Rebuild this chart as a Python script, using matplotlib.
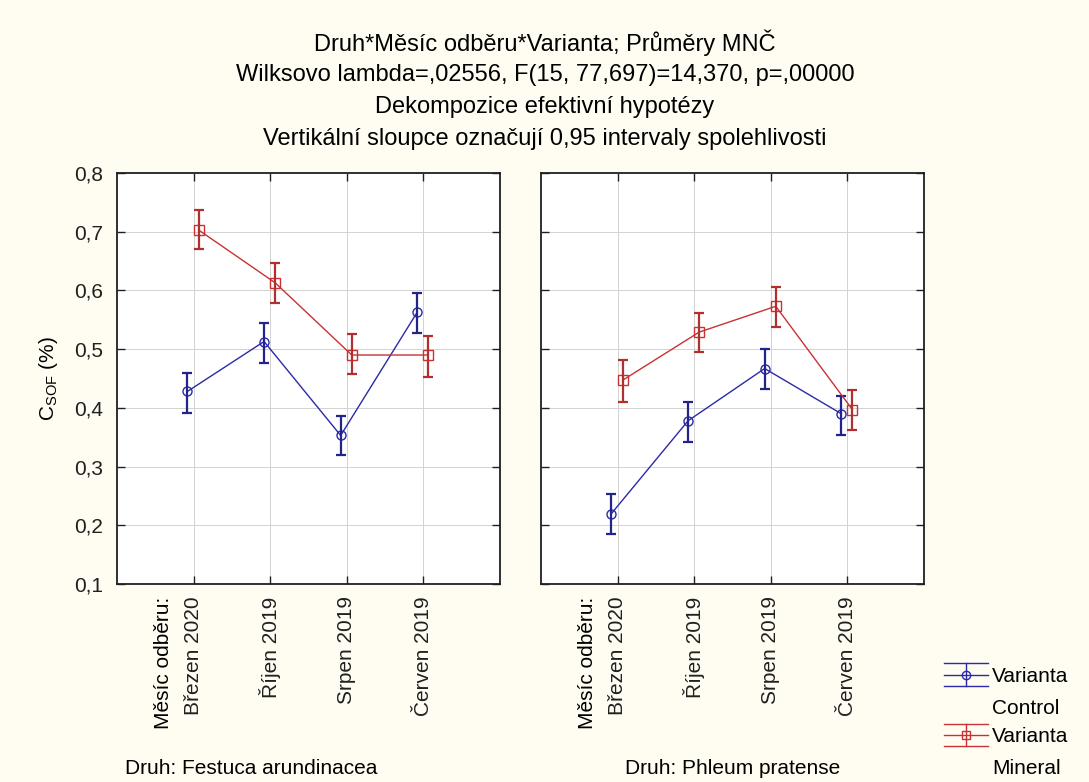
import matplotlib
matplotlib.use('Agg')
import numpy as np
import matplotlib.pyplot as plt
from matplotlib import font_manager
from matplotlib.lines import Line2D
from matplotlib.legend_handler import HandlerBase
from matplotlib.ticker import FuncFormatter

# data
mesice = ['Březen 2020', 'Říjen 2019', 'Srpen 2019', 'Červen 2019']
druhy = ['Festuca arundinacea', 'Phleum pratense']

control_mean = [[0.428, 0.513, 0.353, 0.563], [0.220, 0.378, 0.467, 0.390]]
control_low = [[0.391, 0.477, 0.319, 0.528], [0.185, 0.341, 0.432, 0.354]]
control_high = [[0.460, 0.545, 0.386, 0.595], [0.254, 0.410, 0.500, 0.421]]

mineral_mean = [[0.703, 0.613, 0.490, 0.490], [0.447, 0.529, 0.573, 0.397]]
mineral_low = [[0.670, 0.578, 0.457, 0.453], [0.410, 0.495, 0.537, 0.363]]
mineral_high = [[0.737, 0.646, 0.525, 0.522], [0.481, 0.562, 0.605, 0.430]]

titulky = ['Druh*Měsíc odběru*Varianta; Průměry MNČ',
           'Wilksovo lambda=,02556, F(15, 77,697)=14,370, p=,00000',
           'Dekompozice efektivní hypotézy',
           'Vertikální sloupce označují 0,95 intervaly spolehlivosti']

nazvy = {f.name for f in font_manager.fontManager.ttflist}
uzky = 'Liberation Sans Narrow' if 'Liberation Sans Narrow' in nazvy else 'Liberation Sans'
plt.rcParams['font.family'] = ['Liberation Sans', 'DejaVu Sans']

BG = '#fffcf2'
MODRA = '#2a2aa8'
CERVENA = '#c83232'


class ErrHandler(HandlerBase):
    # small error-bar glyph, lifted to sit on the first line of the label
    def create_artists(self, legend, orig_handle, xdescent, ydescent,
                       width, height, fontsize, trans):
        c = orig_handle.get_color()
        m = orig_handle.get_marker()
        yc = height / 2 - ydescent + fontsize * 0.85
        h = fontsize * 0.55
        arts = []
        for y in (yc - h, yc, yc + h):
            arts.append(Line2D([-xdescent, width - xdescent], [y, y], color=c, lw=1.0))
        arts.append(Line2D([width / 2 - xdescent] * 2, [yc - h, yc + h], color=c, lw=1.0))
        arts.append(Line2D([width / 2 - xdescent], [yc], marker=m, color=c,
                           markerfacecolor='none', markersize=6, lw=0))
        for a in arts:
            a.set_transform(trans)
        return arts


fig = plt.figure(figsize=(10.89, 7.82), dpi=100, facecolor=BG)

for i, t in enumerate(titulky):
    fig.text(0.5005, 1 - (43 + 32 * i) / 782, t, ha='center', va='center',
             fontsize=17, family=uzky)

x = np.arange(1, 5)
lefts = [117 / 1089, 541 / 1089]
popisky_x = [251 / 1089, 733 / 1089]
fmt = FuncFormatter(lambda v, p: f'{v:.1f}'.replace('.', ','))

for k in range(2):
    ax = fig.add_axes([lefts[k], 198 / 782, 383 / 1089, 411 / 782])
    ax.set_facecolor('white')
    ax.grid(True, color='#d2d2d2', lw=0.7)
    ax.set_axisbelow(True)

    cm = np.array(control_mean[k])
    ax.plot(x - 0.08, cm, color=MODRA, lw=1.0, marker='o', ms=6.5,
            mfc='none', mec=MODRA, mew=1.0)
    ax.errorbar(x - 0.08, cm, yerr=[cm - np.array(control_low[k]), np.array(control_high[k]) - cm],
                fmt='none', ecolor='#23238c', elinewidth=1.6, capsize=3.5, capthick=1.6)

    mm = np.array(mineral_mean[k])
    ax.plot(x + 0.065, mm, color=CERVENA, lw=1.0, marker='s', ms=7,
            mfc='none', mec=CERVENA, mew=1.0)
    ax.errorbar(x + 0.065, mm, yerr=[mm - np.array(mineral_low[k]), np.array(mineral_high[k]) - mm],
                fmt='none', ecolor='#b03030', elinewidth=1.6, capsize=3.5, capthick=1.6)

    ax.set_xlim(0, 5)
    ax.set_ylim(0.1, 0.8)
    ax.set_xticks(x)
    ax.set_xticklabels(mesice, rotation=90, fontsize=15)
    ax.set_yticks(np.arange(0.1, 0.81, 0.1))
    ax.yaxis.set_major_formatter(fmt)
    ax.tick_params(direction='in', length=6, width=1.0, top=True, right=True,
                   labelsize=15, pad=10, colors='#202020')
    ax.tick_params(axis='x', pad=9)
    for s in ax.spines.values():
        s.set_linewidth(1.3)
        s.set_color('#202020')
    if k == 0:
        ax.set_ylabel('C$_{\\mathregular{SOF}}$ (%)', fontsize=15, labelpad=10)
    else:
        ax.set_yticklabels([])
    ax.text(0.61, -0.03, 'Měsíc odběru:', transform=ax.get_xaxis_transform(),
            rotation=90, ha='center', va='top', fontsize=15)
    fig.text(popisky_x[k], 14 / 782, 'Druh: ' + druhy[k], ha='center', va='center',
             fontsize=15, family=uzky)

h1 = Line2D([], [], color=MODRA, marker='o')
h2 = Line2D([], [], color=CERVENA, marker='s')
leg = fig.legend([h1, h2], ['Varianta\nControl', 'Varianta\nMineral'],
                 handler_map={h1: ErrHandler(), h2: ErrHandler()},
                 loc='upper left', bbox_to_anchor=(944 / 1089, 1 - 667 / 782),
                 frameon=False, prop={'family': uzky, 'size': 15},
                 handlelength=2.1, handletextpad=0.2, labelspacing=0.45,
                 borderpad=0, borderaxespad=0)
for t in leg.get_texts():
    t.set_linespacing(1.85)

fig.savefig('out.png', dpi=100, facecolor=BG)
